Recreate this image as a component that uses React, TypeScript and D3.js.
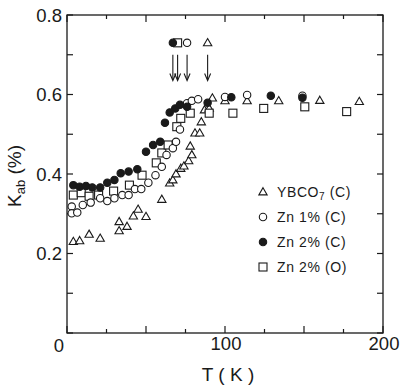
import { useEffect, useRef } from 'react';
import * as d3 from 'd3';

// YBCO7 (C) - open triangles
const tYbco = [4, 8, 14, 21, 33, 33, 38, 42, 45, 50, 60, 65, 67, 69, 72, 74, 77, 78, 79, 81, 84, 85, 87, 90, 92, 100, 114, 134, 160, 185];
const kYbco = [0.23, 0.232, 0.248, 0.238, 0.257, 0.28, 0.268, 0.294, 0.311, 0.293, 0.336, 0.377, 0.385, 0.4, 0.414, 0.42, 0.433, 0.47, 0.448, 0.503, 0.503, 0.531, 0.561, 0.565, 0.591, 0.584, 0.584, 0.584, 0.585, 0.582];

// Zn 1% (C) - open circles
const tZn1 = [3, 3, 6.5, 10, 15, 21, 25.5, 30, 35, 39, 43, 47, 51.5, 56, 60, 63, 67, 69, 71.5, 76, 79, 83, 100, 114, 149];
const kZn1 = [0.318, 0.301, 0.303, 0.322, 0.328, 0.339, 0.332, 0.339, 0.347, 0.347, 0.362, 0.362, 0.378, 0.397, 0.418, 0.448, 0.465, 0.481, 0.512, 0.578, 0.584, 0.588, 0.594, 0.599, 0.597];

// Zn 2% (C) - filled circles
const tZn2c = [4, 8, 12, 16, 21, 25.5, 30, 34, 39, 44.5, 50, 54.5, 59, 62, 65, 68.5, 71.5, 76, 89, 104, 129, 149];
const kZn2c = [0.372, 0.368, 0.37, 0.366, 0.366, 0.378, 0.385, 0.402, 0.406, 0.412, 0.456, 0.473, 0.481, 0.529, 0.555, 0.565, 0.574, 0.569, 0.579, 0.593, 0.597, 0.592];

// Zn 2% (O) - open squares
const tZn2o = [4, 9, 14, 20, 29.5, 39.5, 47.5, 56.5, 60, 64, 69.5, 72, 78, 90, 105, 124.5, 150.5, 177];
const kZn2o = [0.347, 0.353, 0.344, 0.347, 0.357, 0.372, 0.397, 0.428, 0.453, 0.473, 0.519, 0.54, 0.553, 0.553, 0.553, 0.565, 0.569, 0.557];

// transition temperatures marked by arrows (square, filled, open circle, triangle)
const tcMarks = ['zn2o', 'zn2c', 'zn1', 'ybco'];
const tcValues = [70, 67, 76, 89];

const yTickLabels = [0.2, 0.4, 0.6, 0.8];
const xTickLabels = [100, 200];

const legendKeys = ['ybco', 'zn1', 'zn2c', 'zn2o'];
const legendNames = ['YBCO', 'Zn 1% (C)', 'Zn 2% (C)', 'Zn 2% (O)'];

const App = () => {
  const svgRef = useRef(null);

  useEffect(() => {
    const width = 411;
    const height = 392;
    const font = 'Liberation Sans, Arial, Helvetica, sans-serif';
    const ink = '#1a1a1a';

    const svg = d3.select(svgRef.current);
    svg.selectAll('*').remove();
    svg.attr('width', width).attr('height', height);

    const x = d3.scaleLinear().domain([0, 200]).range([67, 383]);
    const y = d3.scaleLinear().domain([0, 0.8]).range([333, 15]);

    // frame
    svg.append('rect')
      .attr('x', 67).attr('y', 15)
      .attr('width', 316).attr('height', 318)
      .attr('fill', 'none').attr('stroke', ink).attr('stroke-width', 1.3);

    // ticks (inward)
    const ticks = svg.append('g').attr('stroke', ink).attr('stroke-width', 1.2);
    d3.range(0, 201, 25).forEach(v => {
      const len = v % 50 === 0 ? 7 : 4;
      ticks.append('line').attr('x1', x(v)).attr('x2', x(v)).attr('y1', 333).attr('y2', 333 - len);
      ticks.append('line').attr('x1', x(v)).attr('x2', x(v)).attr('y1', 15).attr('y2', 15 + len);
    });
    d3.range(0, 9).forEach(i => {
      const v = i / 10;
      ticks.append('line').attr('x1', 67).attr('x2', 73).attr('y1', y(v)).attr('y2', y(v));
      ticks.append('line').attr('x1', 383).attr('x2', 377).attr('y1', y(v)).attr('y2', y(v));
    });

    // tick labels
    svg.append('g').selectAll('text')
      .data(yTickLabels)
      .enter()
      .append('text')
      .attr('x', 62).attr('y', d => y(d) + 6.5)
      .attr('text-anchor', 'end')
      .style('font-family', font).style('font-size', '18.5px').attr('fill', ink)
      .text(d => d.toFixed(1));

    svg.append('g').selectAll('text')
      .data(xTickLabels)
      .enter()
      .append('text')
      .attr('x', d => x(d) + 1).attr('y', 350)
      .attr('text-anchor', 'middle')
      .style('font-family', font).style('font-size', '18.5px').attr('fill', ink)
      .text(d => d);

    svg.append('text')
      .attr('x', 59).attr('y', 352)
      .attr('text-anchor', 'middle')
      .style('font-family', font).style('font-size', '18.5px').attr('fill', ink)
      .text('0');

    // axis titles
    svg.append('text')
      .attr('x', 228).attr('y', 381)
      .attr('text-anchor', 'middle')
      .style('font-family', font).style('font-size', '19px').attr('fill', ink)
      .text('T ( K )');

    const yTitle = svg.append('text')
      .attr('transform', 'translate(21,176) rotate(-90)')
      .attr('text-anchor', 'middle')
      .style('font-family', font).style('font-size', '19px').attr('fill', ink);
    yTitle.append('tspan').text('K');
    yTitle.append('tspan').attr('dy', 4).style('font-size', '13px').text('ab');
    yTitle.append('tspan').attr('dy', -4).text(' (%)');

    // markers
    const tri = d3.symbol(d3.symbolTriangle, 30)();
    const drawMark = (g, key, cx, cy) => {
      if (key === 'ybco') {
        g.append('path').attr('d', tri)
          .attr('transform', `translate(${cx},${cy + 0.5})`)
          .attr('fill', 'white').attr('stroke', ink).attr('stroke-width', 1.1);
      } else if (key === 'zn2o') {
        g.append('rect').attr('x', cx - 4).attr('y', cy - 4)
          .attr('width', 8).attr('height', 8)
          .attr('fill', 'white').attr('stroke', ink).attr('stroke-width', 1.1);
      } else {
        g.append('circle').attr('cx', cx).attr('cy', cy).attr('r', 3.7)
          .attr('fill', key === 'zn2c' ? ink : 'white')
          .attr('stroke', ink).attr('stroke-width', 1.1);
      }
    };

    const seriesList = [
      { key: 'ybco', t: tYbco, k: kYbco },
      { key: 'zn2o', t: tZn2o, k: kZn2o },
      { key: 'zn1', t: tZn1, k: kZn1 },
      { key: 'zn2c', t: tZn2c, k: kZn2c },
    ];
    const marks = svg.append('g');
    seriesList.forEach(s => {
      s.t.forEach((t, i) => drawMark(marks, s.key, x(t), y(s.k[i])));
    });

    // Tc arrows
    const arrows = svg.append('g');
    tcValues.forEach((t, i) => {
      const ax = x(t);
      arrows.append('line')
        .attr('x1', ax).attr('x2', ax)
        .attr('y1', y(0.7)).attr('y2', y(0.635) - 1)
        .attr('stroke', ink).attr('stroke-width', 1.1);
      arrows.append('path')
        .attr('d', `M${ax - 3},${y(0.635) - 7}L${ax},${y(0.635)}L${ax + 3},${y(0.635) - 7}`)
        .attr('fill', 'none').attr('stroke', ink).attr('stroke-width', 1.1);
      drawMark(arrows, tcMarks[i], ax, y(0.73));
    });

    // legend
    const legend = svg.append('g');
    legendKeys.forEach((key, i) => {
      const ly = 192 + i * 25;
      drawMark(legend, key, 263, ly);
      const txt = legend.append('text')
        .attr('x', 277).attr('y', ly + 5)
        .style('font-family', font).style('font-size', '14px')
        .style('letter-spacing', '0.6px').attr('fill', ink);
      txt.append('tspan').text(legendNames[i]);
      if (key === 'ybco') {
        txt.append('tspan').attr('dy', 3).style('font-size', '10px').text('7');
        txt.append('tspan').attr('dy', -3).text(' (C)');
      }
    });
  }, []);

  return <svg ref={svgRef} style={{ position: 'absolute', left: 0, top: 0, background: 'white' }}></svg>;
};

export default App;
